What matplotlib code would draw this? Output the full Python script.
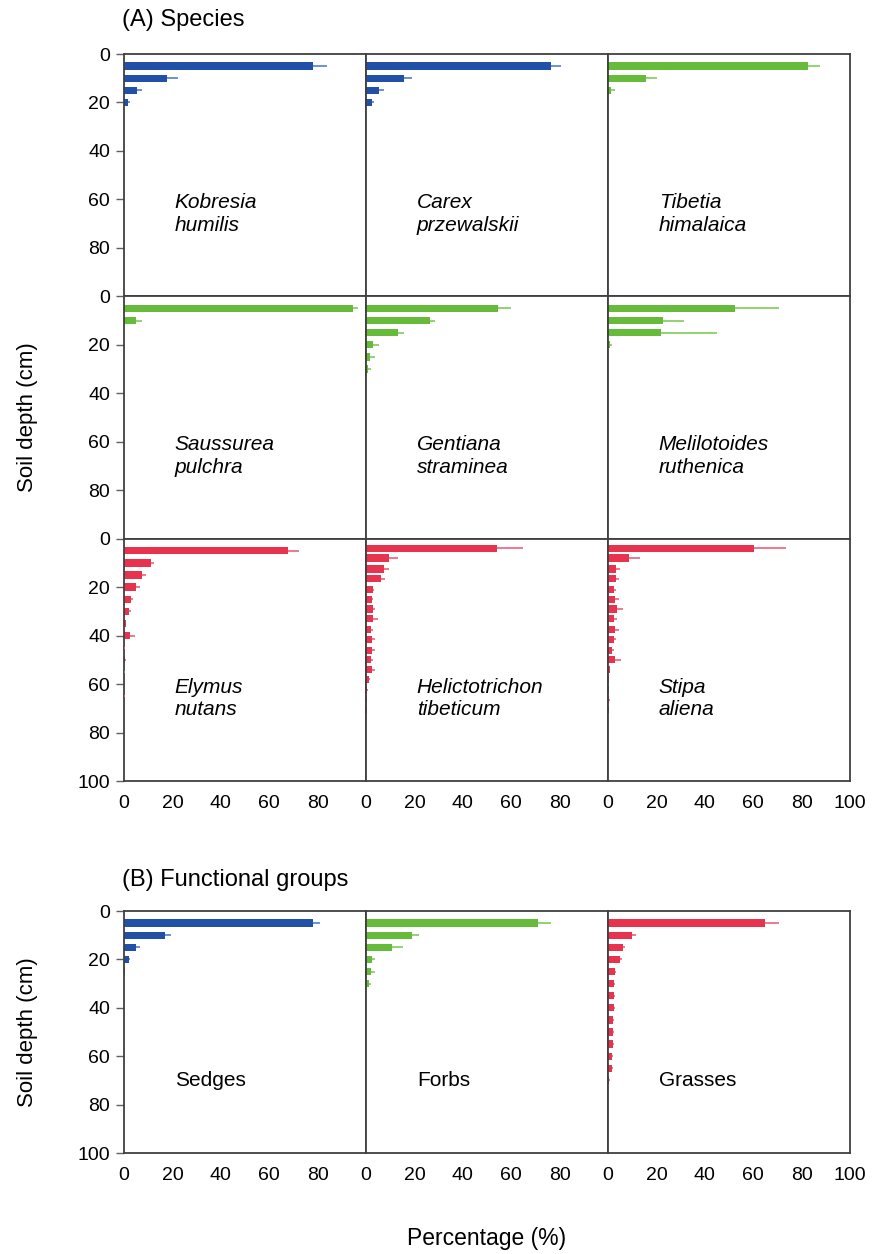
import matplotlib.pyplot as plt
import numpy as np

plt.rcParams['font.family'] = ['Liberation Sans', 'DejaVu Sans']

BLUE = '#2150a8'
GREEN = '#66bb3a'
RED = '#e8334f'
LIGHT = {BLUE: '#4f7fd0', GREEN: '#7fcc58', RED: '#f0607a'}

# depth of each layer (cm)
depth_5cm = [5, 10, 15, 20, 25, 30, 35, 40, 45, 50, 55, 60, 65, 70, 75]
depth_4cm = [4, 8, 12.5, 16.5, 21, 25, 29, 33, 37.5, 41.5, 46, 50, 54, 58, 62.5, 66.5, 70.5]

# (A) species: mean percentage and upper error
kobresia = [77.9, 17.6, 5.2, 1.5]
kobresia_err = [6.1, 4.8, 2.3, 1.1]
carex = [76.3, 15.8, 5.2, 2.3]
carex_err = [4.4, 3.4, 2.1, 0.8]
tibetia = [82.5, 15.7, 1.4]
tibetia_err = [5.1, 4.5, 1.3]
saussurea = [94.7, 5.1]
saussurea_err = [2.1, 2.2]
gentiana = [54.4, 26.4, 13.2, 2.9, 1.6, 0.8]
gentiana_err = [5.7, 2.2, 2.6, 2.3, 2.0, 1.3]
melilotoides = [52.6, 22.8, 22.1, 0.8]
melilotoides_err = [18.2, 8.5, 22.8, 0.7]
elymus = [67.8, 11.3, 7.4, 5.1, 3.0, 2.1, 0.7, 2.5, 0.2, 0.5, 0.2, 0.1, 0.2, 0.1, 0.1]
elymus_err = [4.7, 0.9, 1.7, 1.7, 0.9, 0.8, 0.3, 1.9, 0.3, 0.5, 0.2, 0.1, 0.2, 0.1, 0.1]
helicto = [54.3, 9.6, 7.3, 6.0, 2.7, 2.3, 2.7, 3.0, 2.2, 2.5, 2.5, 2.2, 2.5, 1.1, 0.5, 0.4, 0.4]
helicto_err = [10.6, 3.7, 2.0, 2.0, 0.7, 0.7, 0.9, 2.1, 0.7, 1.2, 1.2, 0.5, 1.3, 0.5, 0.2, 0.2, 0.2]
stipa = [60.2, 8.7, 3.4, 3.3, 2.5, 2.7, 3.9, 2.5, 3.0, 2.5, 1.8, 2.7, 0.7, 0.4, 0.4, 0.6, 0.4]
stipa_err = [13.3, 4.5, 1.4, 1.2, 0.9, 1.7, 2.3, 1.1, 1.4, 0.8, 0.7, 2.8, 0.3, 0.2, 0.2, 0.3, 0.2]

# (B) functional groups
sedges = [78.0, 16.8, 5.1, 2.2, 0.3]
sedges_err = [3.0, 2.5, 1.4, 0.4, 0.2]
forbs = [71.1, 19.2, 10.6, 2.5, 1.9, 1.2]
forbs_err = [5.3, 2.5, 4.5, 1.3, 1.7, 0.9]
grasses = [65.0, 9.9, 6.1, 4.9, 2.9, 2.5, 2.5, 2.4, 2.0, 2.0, 1.9, 1.8, 1.5, 0.5]
grasses_err = [5.5, 1.5, 1.1, 0.9, 0.6, 0.5, 0.5, 0.5, 0.4, 0.4, 0.4, 0.4, 0.4, 0.2]

species_panels = [
    ('Kobresia\nhumilis', kobresia, kobresia_err, depth_5cm, BLUE),
    ('Carex\nprzewalskii', carex, carex_err, depth_5cm, BLUE),
    ('Tibetia\nhimalaica', tibetia, tibetia_err, depth_5cm, GREEN),
    ('Saussurea\npulchra', saussurea, saussurea_err, depth_5cm, GREEN),
    ('Gentiana\nstraminea', gentiana, gentiana_err, depth_5cm, GREEN),
    ('Melilotoides\nruthenica', melilotoides, melilotoides_err, depth_5cm, GREEN),
    ('Elymus\nnutans', elymus, elymus_err, depth_5cm, RED),
    ('Helictotrichon\ntibeticum', helicto, helicto_err, depth_4cm, RED),
    ('Stipa\naliena', stipa, stipa_err, depth_4cm, RED),
]
group_panels = [
    ('Sedges', sedges, sedges_err, depth_5cm, BLUE),
    ('Forbs', forbs, forbs_err, depth_5cm, GREEN),
    ('Grasses', grasses, grasses_err, depth_5cm, RED),
]

W, H = 872, 1254
fig = plt.figure(figsize=(W / 100, H / 100), dpi=100)

X0, X1 = 124, 850
PW = (X1 - X0) / 3
SPINE = '#404040'


def draw_panel(left_px, top_px, height_px, label, vals, errs, depth, color,
               italic, first_col, last_col, bottom_row):
    ax = fig.add_axes([left_px / W, 1 - (top_px + height_px) / H, PW / W, height_px / H])
    n = len(vals)
    d = np.array(depth[:n])
    v = np.array(vals)
    e = np.array(errs)
    ax.barh(d, v, height=3.0, color=color, edgecolor='none', zorder=2)
    ax.errorbar(v, d, xerr=[np.zeros(n), e], fmt='none', ecolor=LIGHT[color],
                elinewidth=1.2, capsize=0, zorder=3)
    ax.set_xlim(0, 100)
    ax.set_ylim(100, 0)
    for s in ax.spines.values():
        s.set_color(SPINE)
        s.set_linewidth(1.3)
    if first_col:
        ax.set_yticks([0, 20, 40, 60, 80, 100] if bottom_row else [0, 20, 40, 60, 80])
        ax.tick_params(axis='y', length=6, width=1, color='#606060', pad=4, labelsize=14)
    else:
        ax.set_yticks([])
    if bottom_row:
        ax.set_xticks([0, 20, 40, 60, 80, 100] if last_col else [0, 20, 40, 60, 80])
        ax.tick_params(axis='x', length=0, pad=10, labelsize=14)
    else:
        ax.set_xticks([])
    ax.text(21, 66 if italic else 70, label, fontsize=15, style='italic' if italic else 'normal',
            va='center', ha='left', linespacing=1.25)
    return ax


rowA_top = 54
rowA_h = (781 - 54) / 3
for i, (label, vals, errs, depth, color) in enumerate(species_panels):
    r, c = divmod(i, 3)
    draw_panel(X0 + c * PW, rowA_top + r * rowA_h, rowA_h, label, vals, errs, depth, color,
               True, c == 0, c == 2, r == 2)

rowB_top = 911
rowB_h = 1153 - 911
for c, (label, vals, errs, depth, color) in enumerate(group_panels):
    draw_panel(X0 + c * PW, rowB_top, rowB_h, label, vals, errs, depth, color,
               False, c == 0, c == 2, True)

fig.text(122 / W, 1 - 20 / H, '(A) Species', fontsize=17, va='center', ha='left')
fig.text(122 / W, 1 - 880 / H, '(B) Functional groups', fontsize=17, va='center', ha='left')
fig.text(28 / W, 1 - 417 / H, 'Soil depth (cm)', fontsize=16, rotation=90, va='center', ha='center')
fig.text(28 / W, 1 - 1032 / H, 'Soil depth (cm)', fontsize=16, rotation=90, va='center', ha='center')
fig.text(487 / W, 1 - 1238 / H, 'Percentage (%)', fontsize=16.5, va='center', ha='center')

fig.savefig('out.png', dpi=100)
